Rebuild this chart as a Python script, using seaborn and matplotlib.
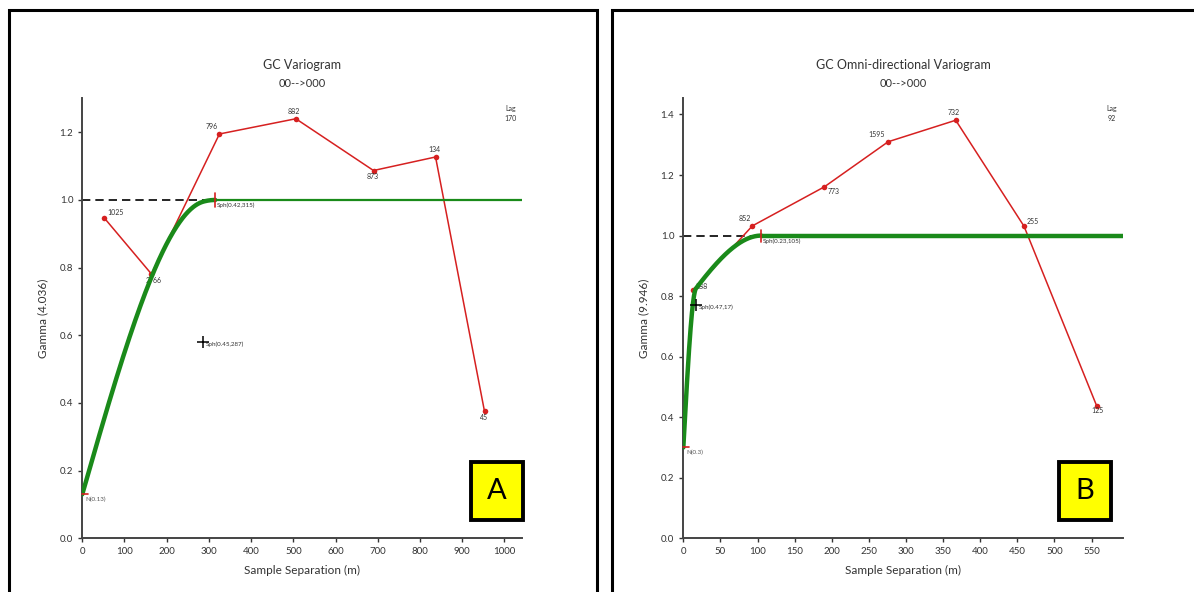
import numpy as np
import pandas as pd
import matplotlib
matplotlib.use("Agg")
import matplotlib.pyplot as plt
from matplotlib.patches import Rectangle
import seaborn as sns

sns.set_style("white")
plt.rcParams["font.family"] = ["Lato", "DejaVu Sans"]

# ── experimental variogram, panel A ──
a_lag = [52, 164, 325, 506, 690, 837, 953]
a_gamma = [0.947, 0.781, 1.195, 1.240, 1.087, 1.127, 0.375]
a_pairs = ["1025", "2766", "796", "882", "873", "134", "45"]
a_nugget = 0.13
a_sills = [0.45, 0.42]
a_ranges = [287, 315]

# ── experimental variogram, panel B ──
b_lag = [13.5, 93, 190, 276, 367, 459, 557]
b_gamma = [0.820, 1.032, 1.161, 1.310, 1.381, 1.031, 0.437]
b_pairs = ["388", "852", "773", "1595", "732", "255", "125"]
b_nugget = 0.30
b_sills = [0.47, 0.23]
b_ranges = [17, 105]

# label offsets (points) for pair counts
a_offsets = [(2, 1), (-4, -7), (-10, 3), (-6, 3), (-5, -7), (-5, 3), (-3, -7)]
b_offsets = [(2, 0), (-10, 3), (2, -6), (-14, 3), (-6, 3), (2, 1), (-4, -6)]


def spherical(h, nugget, sills, ranges):
    g = np.full_like(h, nugget, dtype=float)
    for c, a in zip(sills, ranges):
        r = np.clip(h / a, 0, 1)
        g += c * (1.5 * r - 0.5 * r ** 3)
    return g


def draw_panel(ax, lag, gamma, pairs, offs, nugget, sills, ranges, xmax, ymax,
               xstep, title, ylabel, lag_text, letter, flat_lw, box_x):
    sill = nugget + sum(sills)
    rmax = max(ranges)

    # dashed sill line up to the range
    ax.plot([0, rmax], [sill, sill], color="black", ls=(0, (5, 3)), lw=1.2, zorder=2)

    # experimental points
    exp_df = pd.DataFrame({"lag": lag, "gamma": gamma})
    sns.lineplot(data=exp_df, x="lag", y="gamma", ax=ax, color="#d62020", lw=1.1,
                 marker="o", markersize=4, markeredgewidth=0, zorder=3)
    for x, y, t, (dx, dy) in zip(lag, gamma, pairs, offs):
        ax.annotate(t, (x, y), xytext=(dx, dy), textcoords="offset points",
                    fontsize=5, color="#333333", ha="left", va="bottom")

    # model curve
    h = np.linspace(0, rmax, 300)
    mod_df = pd.DataFrame({"h": h, "g": spherical(h, nugget, sills, ranges)})
    sns.lineplot(data=mod_df, x="h", y="g", ax=ax, color="#1a8a1a", lw=3.2, zorder=4)
    ax.plot([rmax, xmax], [sill, sill], color="#1a8a1a", lw=flat_lw, zorder=4,
            solid_capstyle="butt")

    # structure markers
    ax.plot([0, xmax * 0.012], [nugget, nugget], color="#d62020", lw=1.2, zorder=5,
            clip_on=False)
    ax.annotate(f"N({nugget:g})", (0, nugget), xytext=(2, -5),
                textcoords="offset points", fontsize=4.5, color="#555555")
    c1 = nugget + sills[0]
    ax.plot([ranges[0]], [c1], marker="+", color="black", markersize=9,
            markeredgewidth=1.1, zorder=5)
    ax.annotate(f"Sph({sills[0]:.2f},{ranges[0]})", (ranges[0], c1), xytext=(2, -3),
                textcoords="offset points", fontsize=4.5, color="#333333")
    ax.plot([ranges[1], ranges[1]], [sill - 0.02, sill + 0.02], color="#d62020",
            lw=1.2, zorder=5)
    ax.annotate(f"Sph({sills[1]:.2f},{ranges[1]})", (ranges[1], sill), xytext=(1, -5),
                textcoords="offset points", fontsize=4.5, color="#333333")

    # lag text
    ax.text(0.975, 0.985, "Lag", transform=ax.transAxes, fontsize=5, ha="center",
            va="top", color="#333333")
    ax.text(0.975, 0.962, lag_text, transform=ax.transAxes, fontsize=5, ha="center",
            va="top", color="#333333")

    # titles
    ax.text(0.5, 1.076, title, transform=ax.transAxes, fontsize=9, ha="center",
            va="center", color="#333333")
    ax.text(0.5, 1.033, "00-->000", transform=ax.transAxes, fontsize=8, ha="center",
            va="center", color="#333333")

    # yellow letter box
    bw, bh, by = 0.117, 0.132, 0.042
    ax.add_patch(Rectangle((box_x, by), bw, bh, transform=ax.transAxes,
                           fc="#ffff00", ec="black", lw=2.8, zorder=6, clip_on=False))
    ax.text(box_x + bw / 2, by + bh / 2, letter, transform=ax.transAxes, fontsize=21,
            ha="center", va="center", color="black", zorder=7)

    ax.set_xlim(0, xmax)
    ax.set_ylim(0, ymax)
    ax.set_xticks(np.arange(0, xmax, xstep))
    ax.set_yticks(np.arange(0, ymax, 0.2))
    ax.yaxis.set_major_formatter(matplotlib.ticker.FormatStrFormatter("%.1f"))
    ax.set_xlabel("Sample Separation (m)", fontsize=8.5, color="#333333", labelpad=6)
    ax.set_ylabel(ylabel, fontsize=8.5, color="#333333", labelpad=8)
    ax.tick_params(axis="both", labelsize=7, colors="#333333", length=3, width=1,
                   direction="out", left=True, bottom=True)
    sns.despine(ax=ax)
    for s in ["left", "bottom"]:
        ax.spines[s].set_color("#444444")
        ax.spines[s].set_linewidth(1.4)


fig = plt.figure(figsize=(11.94, 5.92), dpi=100)
ax1 = fig.add_axes([0.0689, 0.0907, 0.368, 0.743])
ax2 = fig.add_axes([0.5723, 0.0907, 0.368, 0.743])

draw_panel(ax1, a_lag, a_gamma, a_pairs, a_offsets, a_nugget, a_sills, a_ranges,
           1041, 1.30, 100, "GC Variogram", "Gamma (4.036)", "170", "A", 1.6, 0.885)
draw_panel(ax2, b_lag, b_gamma, b_pairs, b_offsets, b_nugget, b_sills, b_ranges,
           592, 1.453, 50, "GC Omni-directional Variogram", "Gamma (9.946)", "92", "B",
           3.2, 0.856)

# panel frames
fig.patches.append(Rectangle((9 / 1194, -0.05), 588 / 1194, 1 - 10 / 592 + 0.05,
                             transform=fig.transFigure, fill=False, ec="black", lw=2.2))
fig.patches.append(Rectangle((612 / 1194, -0.05), 0.6, 1 - 10 / 592 + 0.05,
                             transform=fig.transFigure, fill=False, ec="black", lw=2.2))

fig.savefig("out.png", dpi=100, facecolor="white")
